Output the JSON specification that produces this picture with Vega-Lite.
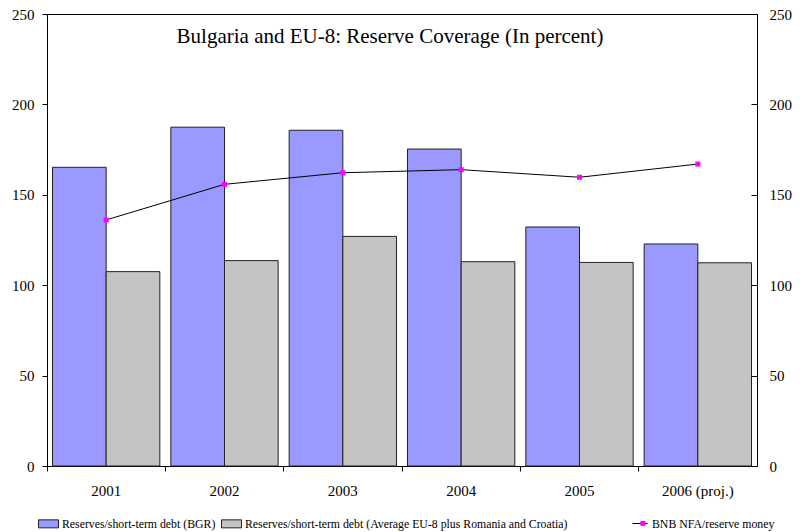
{
  "$schema": "https://vega.github.io/schema/vega-lite/v6.json",
  "width": 710,
  "height": 452,
  "autosize": {"type": "none"},
  "padding": {"left": 47, "top": 14, "right": 51, "bottom": 66},
  "background": "white",
  "config": {
    "font": "Liberation Serif",
    "view": {"stroke": "black", "strokeWidth": 1},
    "axis": {"labelFont": "Liberation Serif", "labelFontSize": 15, "labelColor": "black", "domainColor": "black", "tickColor": "black", "grid": false, "title": null},
    "legend": {"labelFont": "Liberation Serif", "labelFontSize": 11.8, "labelColor": "black"}
  },
  "title": {
    "text": "Bulgaria and EU-8: Reserve Coverage (In percent)",
    "font": "Liberation Serif",
    "fontSize": 21,
    "fontWeight": "normal",
    "color": "black",
    "anchor": "middle",
    "frame": "group",
    "baseline": "alphabetic",
    "offset": -57,
    "dx": -12
  },
  "datasets": {
    "bars": [
      {"year": "2001", "series": "Reserves/short-term debt (BGR)", "value": 165.2},
      {"year": "2001", "series": "Reserves/short-term debt (Average EU-8 plus Romania and Croatia)", "value": 107.5},
      {"year": "2002", "series": "Reserves/short-term debt (BGR)", "value": 187.4},
      {"year": "2002", "series": "Reserves/short-term debt (Average EU-8 plus Romania and Croatia)", "value": 113.6},
      {"year": "2003", "series": "Reserves/short-term debt (BGR)", "value": 185.7},
      {"year": "2003", "series": "Reserves/short-term debt (Average EU-8 plus Romania and Croatia)", "value": 127.0},
      {"year": "2004", "series": "Reserves/short-term debt (BGR)", "value": 175.3},
      {"year": "2004", "series": "Reserves/short-term debt (Average EU-8 plus Romania and Croatia)", "value": 113.0},
      {"year": "2005", "series": "Reserves/short-term debt (BGR)", "value": 132.2},
      {"year": "2005", "series": "Reserves/short-term debt (Average EU-8 plus Romania and Croatia)", "value": 112.6},
      {"year": "2006 (proj.)", "series": "Reserves/short-term debt (BGR)", "value": 122.8},
      {"year": "2006 (proj.)", "series": "Reserves/short-term debt (Average EU-8 plus Romania and Croatia)", "value": 112.4}
    ],
    "nfa": [
      {"year": "2001", "value": 136.1},
      {"year": "2002", "value": 155.8},
      {"year": "2003", "value": 162.2},
      {"year": "2004", "value": 163.9},
      {"year": "2005", "value": 159.7},
      {"year": "2006 (proj.)", "value": 167.0}
    ]
  },
  "resolve": {"axis": {"y": "independent"}},
  "layer": [
    {
      "data": {"name": "bars"},
      "mark": {"type": "bar", "stroke": "#222222", "strokeWidth": 1},
      "encoding": {
        "x": {
          "field": "year", "type": "nominal", "sort": null,
          "scale": {"paddingInner": 0, "paddingOuter": 0},
          "axis": {"labelAngle": 0, "bandPosition": 0, "tickSize": 5, "labelPadding": 12, "domain": false, "labelFont": "Liberation Serif", "labelFontSize": 15}
        },
        "xOffset": {
          "field": "series", "type": "nominal", "sort": null,
          "scale": {"paddingInner": 0, "paddingOuter": 0.1025}
        },
        "y": {
          "field": "value", "type": "quantitative",
          "scale": {"domain": [0, 250], "nice": false},
          "axis": {"orient": "left", "values": [0, 50, 100, 150, 200, 250], "tickSize": 5, "labelPadding": 8, "domain": false, "labelFont": "Liberation Serif", "labelFontSize": 15}
        },
        "fill": {
          "field": "series", "type": "nominal", "sort": null,
          "scale": {"range": ["#9999FF", "#c4c4c4"]},
          "legend": {
            "title": null, "orient": "none", "direction": "horizontal",
            "legendX": -9, "legendY": 499, "padding": 0,
            "symbolType": "M-1,-0.4H1V0.4H-1Z", "symbolSize": 400,
            "symbolStrokeColor": "#222222", "symbolStrokeWidth": 1,
            "labelFont": "Liberation Serif", "labelFontSize": 11.8, "labelColor": "black",
            "labelOffset": 3, "columnPadding": 3, "labelLimit": 400
          }
        }
      }
    },
    {
      "data": {"name": "nfa"},
      "mark": {"type": "line", "strokeWidth": 1},
      "encoding": {
        "x": {"field": "year", "type": "nominal", "sort": null},
        "y": {
          "field": "value", "type": "quantitative",
          "scale": {"domain": [0, 250], "nice": false},
          "axis": {"orient": "right", "values": [0, 50, 100, 150, 200, 250], "tickSize": -6, "labelPadding": 18, "domain": false, "labelFont": "Liberation Serif", "labelFontSize": 15}
        },
        "stroke": {
          "datum": "BNB NFA/reserve money",
          "scale": {"range": ["black"]},
          "legend": {
            "title": null, "orient": "none", "legendX": 585, "legendY": 501.5, "padding": 0,
            "symbolType": "stroke", "symbolSize": 225, "symbolStrokeWidth": 1,
            "labelFont": "Liberation Serif", "labelFontSize": 11.8, "labelColor": "black", "labelOffset": 4
          }
        }
      }
    },
    {
      "data": {"name": "nfa"},
      "mark": {"type": "point", "filled": true, "fill": "#FF00FF", "size": 25, "opacity": 1},
      "encoding": {
        "x": {"field": "year", "type": "nominal", "sort": null},
        "y": {"field": "value", "type": "quantitative", "scale": {"domain": [0, 250], "nice": false}, "axis": null},
        "shape": {
          "datum": "marker",
          "scale": {"range": ["square"]},
          "legend": {
            "title": null, "orient": "none", "legendX": 590, "legendY": 503.5, "padding": 0,
            "symbolSize": 25, "symbolFillColor": "#FF00FF", "symbolStrokeWidth": 0,
            "labelExpr": "''", "labelFontSize": 11.8, "labelOffset": 4
          }
        }
      }
    }
  ]
}
